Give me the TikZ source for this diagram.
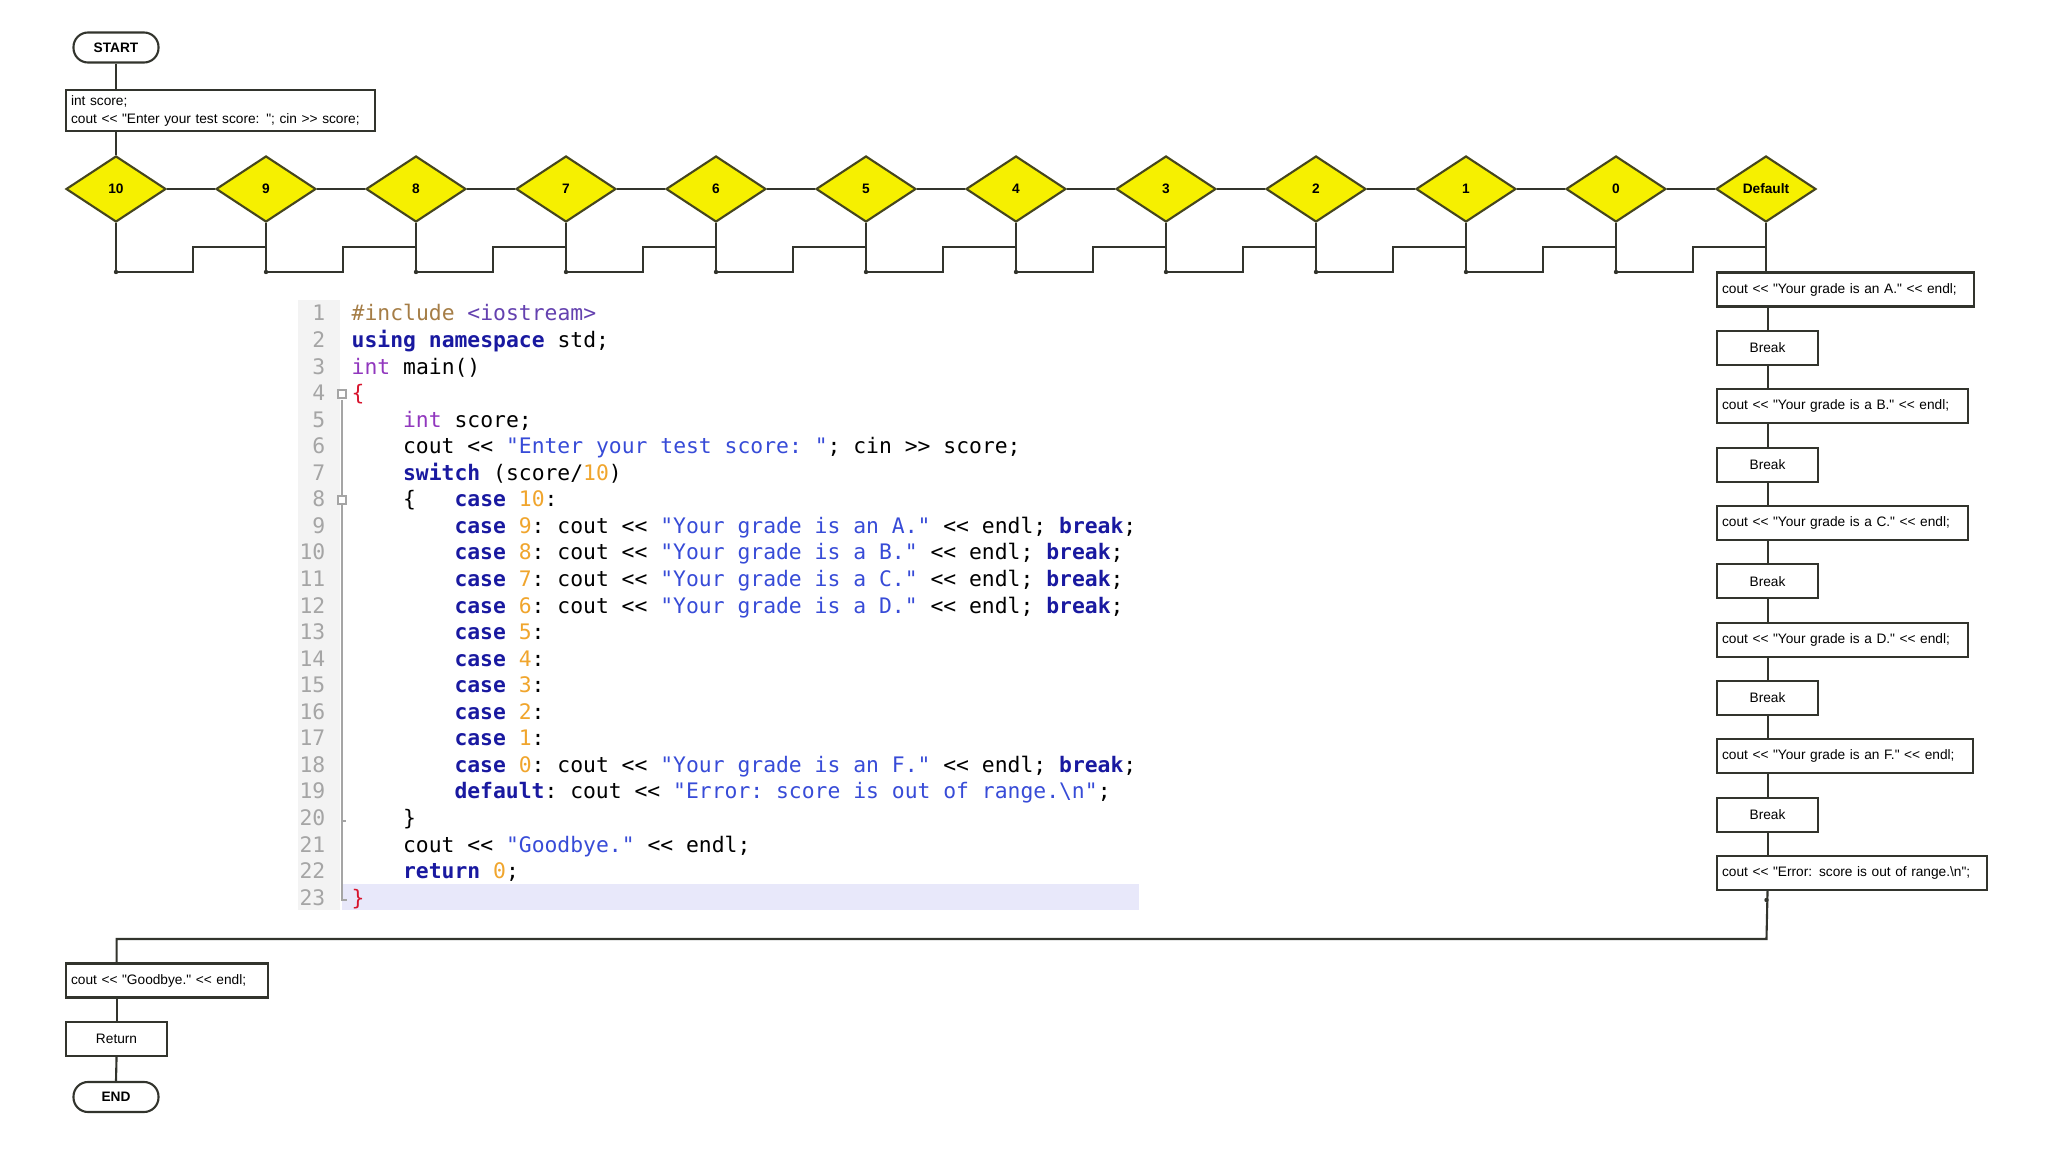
\documentclass[tikz,border=0pt]{standalone}
\usepackage{fontspec}
\setmonofont{DejaVu Sans Mono}
\newfontfamily\chartfont{Liberation Sans}
\usetikzlibrary{shapes.geometric, positioning}

\definecolor{linecol}{RGB}{50,52,45}
\definecolor{diayellow}{RGB}{246,240,0}
\definecolor{diaborder}{RGB}{70,70,30}
\definecolor{ppcol}{RGB}{165,125,70}
\definecolor{inccol}{RGB}{100,65,175}
\definecolor{kwcol}{RGB}{25,25,160}
\definecolor{typcol}{RGB}{145,55,190}
\definecolor{strcol}{RGB}{55,75,215}
\definecolor{numcol}{RGB}{240,165,45}
\definecolor{brcol}{RGB}{215,20,45}
\definecolor{lncol}{RGB}{165,165,165}
\definecolor{gutter}{RGB}{243,243,243}
\definecolor{curline}{RGB}{232,232,250}

\newcommand{\ckw}[1]{\textcolor{kwcol}{\bfseries #1}}
\newcommand{\ctyp}[1]{\textcolor{typcol}{#1}}
\newcommand{\cstr}[1]{\textcolor{strcol}{#1}}
\newcommand{\cnum}[1]{\textcolor{numcol}{#1}}

\begin{document}
\begin{tikzpicture}

    % Styles for the flowchart
    \tikzstyle{link} = [draw=linecol, line width=0.6pt]
    \tikzstyle{terminal} = [rectangle, draw=linecol, line width=0.6pt, rounded corners=0.145cm,
                            minimum width=0.85cm, minimum height=0.30cm, inner sep=0pt,
                            font=\chartfont\fontsize{3.9}{4.6}\selectfont\bfseries]
    \tikzstyle{process} = [rectangle, draw=linecol, line width=0.6pt, anchor=west,
                           minimum height=0.34cm, inner xsep=0.05cm, inner ysep=0pt, align=left,
                           font=\chartfont\fontsize{3.9}{5.1}\selectfont]
    \tikzstyle{breakbox} = [process, align=center, text width=0.91cm]
    \tikzstyle{decision} = [diamond, draw=diaborder, fill=diayellow, line width=0.6pt,
                            minimum width=1.0cm, minimum height=0.66cm, inner sep=0pt,
                            font=\chartfont\fontsize{3.9}{4.6}\selectfont\bfseries]
    \tikzstyle{codeline} = [anchor=base west, inner sep=0pt, font=\fontsize{6.08}{7.5}\selectfont\ttfamily]
    \tikzstyle{lineno} = [anchor=base east, inner sep=0pt, text=lncol, font=\fontsize{6.08}{7.5}\selectfont\ttfamily]

    \useasboundingbox (0,0) rectangle (20.48,-11.52);

    % Start and input
    \node[terminal] (start) at (1.16,-0.475) {START};
    \node[process, text width=2.99cm, minimum height=0.41cm] (init) at (0.65,-1.105)
        {int score;\\cout << "Enter your test score: "; cin >> score;};

    % Cases of the switch
    \node[decision] (d10) at (1.16,-1.89) {10};
    \node[decision] (d9) at (2.66,-1.89) {9};
    \node[decision] (d8) at (4.16,-1.89) {8};
    \node[decision] (d7) at (5.66,-1.89) {7};
    \node[decision] (d6) at (7.16,-1.89) {6};
    \node[decision] (d5) at (8.66,-1.89) {5};
    \node[decision] (d4) at (10.16,-1.89) {4};
    \node[decision] (d3) at (11.66,-1.89) {3};
    \node[decision] (d2) at (13.16,-1.89) {2};
    \node[decision] (d1) at (14.66,-1.89) {1};
    \node[decision] (d0) at (16.16,-1.89) {0};
    \node[decision] (ddef) at (17.66,-1.89) {Default};

    % Output column
    \node[process, text width=2.47cm] (ga) at (17.16,-2.895) {cout << "Your grade is an A." << endl;};
    \node[breakbox] (brk1) at (17.16,-3.479) {Break};
    \node[process, text width=2.41cm] (gb) at (17.16,-4.062) {cout << "Your grade is a B." << endl;};
    \node[breakbox] (brk2) at (17.16,-4.646) {Break};
    \node[process, text width=2.41cm] (gc) at (17.16,-5.229) {cout << "Your grade is a C." << endl;};
    \node[breakbox] (brk3) at (17.16,-5.813) {Break};
    \node[process, text width=2.41cm] (gd) at (17.16,-6.396) {cout << "Your grade is a D." << endl;};
    \node[breakbox] (brk4) at (17.16,-6.98) {Break};
    \node[process, text width=2.46cm] (gf) at (17.16,-7.563) {cout << "Your grade is an F." << endl;};
    \node[breakbox] (brk5) at (17.16,-8.147) {Break};
    \node[process, text width=2.60cm] (err) at (17.16,-8.73) {cout << "Error: score is out of range.\textbackslash n";};

    % Ending
    \node[process, text width=1.92cm] (goodbye) at (0.65,-9.805) {cout << "Goodbye." << endl;};
    \node[breakbox] (ret) at (0.65,-10.39) {Return};
    \node[terminal] (end) at (1.16,-10.97) {END};

    % Connectors
    \coordinate (midline) at (0,-2.47);
    \coordinate (lowline) at (0,-2.72);
    \coordinate (joinpt) at (17.665,-9.39);
    \draw[link] (start.south) -- (start.south |- init.north);
    \draw[link] (d10.north |- init.south) -- (d10.north);
    \foreach \a/\b in {d10/d9, d9/d8, d8/d7, d7/d6, d6/d5, d5/d4, d4/d3, d3/d2, d2/d1, d1/d0, d0/ddef} {
        \draw[link] (\a.east) -- (\b.west);
        \draw[link] (\a.south) -- (\a.south |- lowline) -- ++(0.77,0) |- (\b.south |- midline);
        \fill[linecol] (\a.south |- lowline) circle (0.022);
    }
    \draw[link] (ddef.south) -- (ddef.south |- ga.north);
    \draw[link] (brk1 |- ga.south) -- (brk1.north);
    \draw[link] (brk1.south) -- (brk1 |- gb.north);
    \draw[link] (brk2 |- gb.south) -- (brk2.north);
    \draw[link] (brk2.south) -- (brk2 |- gc.north);
    \draw[link] (brk3 |- gc.south) -- (brk3.north);
    \draw[link] (brk3.south) -- (brk3 |- gd.north);
    \draw[link] (brk4 |- gd.south) -- (brk4.north);
    \draw[link] (brk4.south) -- (brk4 |- gf.north);
    \draw[link] (brk5 |- gf.south) -- (brk5.north);
    \draw[link] (brk5.south) -- (brk5 |- err.north);
    \draw[link] (brk5 |- err.south) -- (joinpt) -| (ret |- goodbye.north);
    \fill[linecol] (17.665,-9.0) circle (0.022);
    \draw[link] (ret |- goodbye.south) -- (ret.north);
    \draw[link] (ret.south) -- (end.north);

    % Source code listing
    \fill[gutter] (2.98,-3.0) rectangle (3.40,-9.10);
    \fill[curline] (3.42,-8.84) rectangle (11.39,-9.10);
    \draw[lncol, line width=0.3pt] (3.42,-4.0) -- (3.42,-9.0) -- ++(0.05,0);
    \draw[lncol, line width=0.3pt] (3.42,-8.21) -- ++(0.04,0);
    \draw[lncol, line width=0.3pt, fill=white] (3.38,-3.98) rectangle (3.46,-3.90);
    \draw[lncol, line width=0.3pt, fill=white] (3.38,-5.04) rectangle (3.46,-4.96);
    \foreach \n in {1,...,23}
        \node[lineno] (n\n) at (3.26,{-3.21-0.2655*(\n-1)}) {\n};

    \node[codeline] (code1) at (3.51,-3.21) {\textcolor{ppcol}{\#include} \textcolor{inccol}{<iostream>}};
    \node[codeline] (code2) at (3.51,-3.4755) {\ckw{using} \ckw{namespace} std;};
    \node[codeline] (code3) at (3.51,-3.741) {\ctyp{int} main()};
    \node[codeline] (code4) at (3.51,-4.0065) {\textcolor{brcol}{\{}};
    \node[codeline] (code5) at (4.024,-4.272) {\ctyp{int} score;};
    \node[codeline] (code6) at (4.024,-4.5375) {cout << \cstr{"Enter your test score: "}; cin >> score;};
    \node[codeline] (code7) at (4.024,-4.803) {\ckw{switch} (score/\cnum{10})};
    \node[codeline] (code8) at (4.024,-5.0685) {\{\ \ \ \ckw{case} \cnum{10}:};
    \node[codeline] (code9) at (4.538,-5.334) {\ckw{case} \cnum{9}: cout << \cstr{"Your grade is an A."} << endl; \ckw{break};};
    \node[codeline] (code10) at (4.538,-5.5995) {\ckw{case} \cnum{8}: cout << \cstr{"Your grade is a B."} << endl; \ckw{break};};
    \node[codeline] (code11) at (4.538,-5.865) {\ckw{case} \cnum{7}: cout << \cstr{"Your grade is a C."} << endl; \ckw{break};};
    \node[codeline] (code12) at (4.538,-6.1305) {\ckw{case} \cnum{6}: cout << \cstr{"Your grade is a D."} << endl; \ckw{break};};
    \node[codeline] (code13) at (4.538,-6.396) {\ckw{case} \cnum{5}:};
    \node[codeline] (code14) at (4.538,-6.6615) {\ckw{case} \cnum{4}:};
    \node[codeline] (code15) at (4.538,-6.927) {\ckw{case} \cnum{3}:};
    \node[codeline] (code16) at (4.538,-7.1925) {\ckw{case} \cnum{2}:};
    \node[codeline] (code17) at (4.538,-7.458) {\ckw{case} \cnum{1}:};
    \node[codeline] (code18) at (4.538,-7.7235) {\ckw{case} \cnum{0}: cout << \cstr{"Your grade is an F."} << endl; \ckw{break};};
    \node[codeline] (code19) at (4.538,-7.989) {\ckw{default}: cout << \cstr{"Error: score is out of range.\textbackslash n"};};
    \node[codeline] (code20) at (4.024,-8.2545) {\}};
    \node[codeline] (code21) at (4.024,-8.52) {cout << \cstr{"Goodbye."} << endl;};
    \node[codeline] (code22) at (4.024,-8.7855) {\ckw{return} \cnum{0};};
    \node[codeline] (code23) at (3.51,-9.051) {\textcolor{brcol}{\}}};

\end{tikzpicture}
\end{document}
